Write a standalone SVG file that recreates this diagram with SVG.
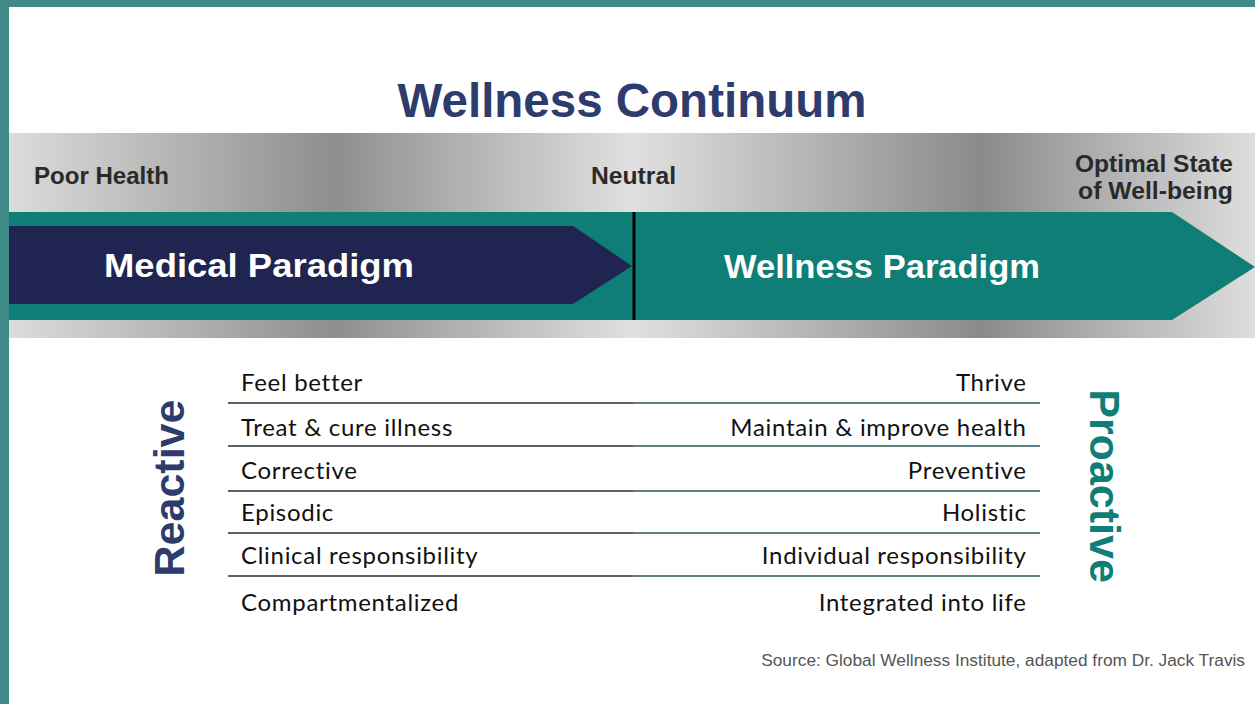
<svg xmlns="http://www.w3.org/2000/svg" width="1255" height="704" viewBox="0 0 1255 704">
  <defs>
    <linearGradient id="band" x1="9" y1="0" x2="1255" y2="0" gradientUnits="userSpaceOnUse">
      <stop offset="0" stop-color="#dcdcdc"/>
      <stop offset="0.26" stop-color="#8e8e8e"/>
      <stop offset="0.5" stop-color="#e0e0e0"/>
      <stop offset="0.78" stop-color="#8a8a8a"/>
      <stop offset="1" stop-color="#dedede"/>
    </linearGradient>
    <style>
      .cap { font-family: "Liberation Sans", Arial, sans-serif; font-weight: bold; font-size: 23px; fill: #2a2a2a; }
      .par { font-family: "Liberation Sans", Arial, sans-serif; font-weight: bold; font-size: 33.5px; fill: #ffffff; }
      .row { font-family: "Lato", "Liberation Sans", sans-serif; font-size: 24px; letter-spacing: 0.7px; fill: #111111; }
      .ll { stroke: #2a2a2a; stroke-width: 1.5; }
      .rl { stroke: #2a5a57; stroke-width: 1.5; }
      .side { font-family: "Liberation Sans", Arial, sans-serif; font-weight: bold; font-size: 43px; }
    </style>
  </defs>
  <rect x="0" y="0" width="1255" height="704" fill="#ffffff"/>
  <rect x="0" y="0" width="1255" height="7" fill="#3f8a86"/>
  <rect x="0" y="0" width="9" height="704" fill="#3f8a86"/>

  <g id="title">
    <text x="632" y="117" text-anchor="middle" font-family="Liberation Sans, Arial, sans-serif" font-weight="bold" font-size="47.5" fill="#2d3c6c">Wellness Continuum</text>
  </g>

  <g id="band">
    <rect x="9" y="133" width="1246" height="205" fill="url(#band)"/>
  </g>

  <g id="labels">
    <text class="cap" x="34" y="184" textLength="135" lengthAdjust="spacingAndGlyphs">Poor Health</text>
    <text class="cap" x="591" y="184" textLength="85" lengthAdjust="spacingAndGlyphs">Neutral</text>
    <text class="cap" x="1075" y="172" textLength="158" lengthAdjust="spacingAndGlyphs">Optimal State</text>
    <text class="cap" x="1078" y="199" textLength="155" lengthAdjust="spacingAndGlyphs">of Well-being</text>
  </g>

  <g id="wellness-paradigm">
    <polygon points="9,212 1172,212 1255,267 1172,320 9,320" fill="#0e7e76"/>
    <text class="par" x="724" y="278" textLength="316" lengthAdjust="spacingAndGlyphs">Wellness Paradigm</text>
  </g>
  <g id="medical-paradigm">
    <polygon points="9,226 573,226 632,266 573,304 9,304" fill="#1f2550"/>
    <text class="par" x="104" y="277" textLength="310" lengthAdjust="spacingAndGlyphs">Medical Paradigm</text>
  </g>
  <g id="connectors">
    <line x1="634" y1="212" x2="634" y2="320" stroke="#000000" stroke-width="3"/>
  </g>

  <g id="table-lines">
    <line class="ll" x1="228" y1="403" x2="633" y2="403"/>
    <line class="ll" x1="228" y1="446" x2="633" y2="446"/>
    <line class="ll" x1="228" y1="491" x2="633" y2="491"/>
    <line class="ll" x1="228" y1="533" x2="633" y2="533"/>
    <line class="ll" x1="228" y1="576" x2="633" y2="576"/>
    <line class="rl" x1="633" y1="403" x2="1040" y2="403"/>
    <line class="rl" x1="633" y1="446" x2="1040" y2="446"/>
    <line class="rl" x1="633" y1="491" x2="1040" y2="491"/>
    <line class="rl" x1="633" y1="533" x2="1040" y2="533"/>
    <line class="rl" x1="633" y1="576" x2="1040" y2="576"/>
  </g>

  <g id="reactive-list">
    <text class="row" x="241" y="391">Feel better</text>
    <text class="row" x="241" y="436">Treat &amp; cure illness</text>
    <text class="row" x="241" y="479">Corrective</text>
    <text class="row" x="241" y="521">Episodic</text>
    <text class="row" x="241" y="564">Clinical responsibility</text>
    <text class="row" x="241" y="611">Compartmentalized</text>
  </g>
  <g id="proactive-list">
    <text class="row" x="1026.7" y="391" text-anchor="end">Thrive</text>
    <text class="row" x="1026.7" y="436" text-anchor="end">Maintain &amp; improve health</text>
    <text class="row" x="1026.7" y="479" text-anchor="end">Preventive</text>
    <text class="row" x="1026.7" y="521" text-anchor="end">Holistic</text>
    <text class="row" x="1026.7" y="564" text-anchor="end">Individual responsibility</text>
    <text class="row" x="1026.7" y="611" text-anchor="end">Integrated into life</text>
  </g>

  <g id="reactive">
    <text class="side" transform="translate(184,488) rotate(-90)" text-anchor="middle" fill="#2d3c6c">Reactive</text>
  </g>
  <g id="proactive">
    <text class="side" transform="translate(1090,486) rotate(90)" text-anchor="middle" fill="#0e7e76">Proactive</text>
  </g>

  <g id="source">
    <text x="1245" y="666" text-anchor="end" font-family="Liberation Sans, Arial, sans-serif" font-size="17.3" fill="#555555">Source: Global Wellness Institute, adapted from Dr. Jack Travis</text>
  </g>
</svg>
